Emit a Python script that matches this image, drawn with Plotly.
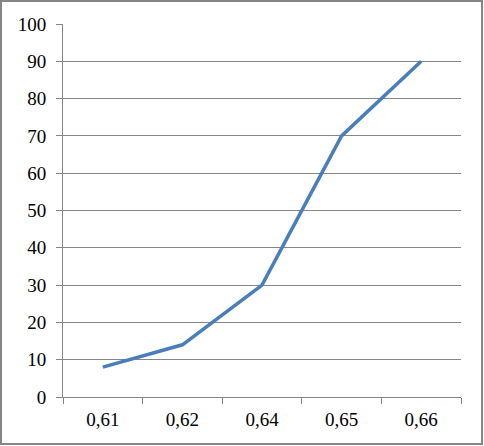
import plotly.graph_objects as go

categories = ["0,61", "0,62", "0,64", "0,65", "0,66"]
values = [8, 14, 30, 70, 90]
y_ticks = list(range(0, 101, 10))

W, H = 484, 446
L, R, T, B = 63, 23, 24, 49
pw, ph = W - L - R, H - T - B

def px_x(x):
    return (x - L) / pw

def px_y(y):
    return (H - B - y) / ph

gray = "#868686"
fig = go.Figure()
fig.add_trace(go.Scatter(
    x=categories, y=values, mode="lines",
    line=dict(color="#4A7EBB", width=3.5),
    showlegend=False, hoverinfo="skip",
))

fig.update_layout(
    width=W, height=H,
    margin=dict(l=L, r=R, t=T, b=B),
    paper_bgcolor="white", plot_bgcolor="white",
    font=dict(family="Liberation Serif", size=19, color="black"),
    xaxis=dict(
        type="category", range=[-0.5, 4.5],
        showgrid=False, showline=True, linecolor=gray, linewidth=1,
        ticks="outside", ticklen=6, tickcolor=gray, tickwidth=1,
        tickson="boundaries", ticklabelstandoff=5,
        zeroline=False,
    ),
    yaxis=dict(
        range=[0, 100], tickvals=y_ticks,
        showgrid=True, gridcolor=gray, gridwidth=1,
        showline=True, linecolor=gray, linewidth=1,
        ticks="outside", ticklen=6, tickcolor=gray, tickwidth=1,
        ticklabelstandoff=6, zeroline=False,
    ),
    shapes=[dict(
        type="rect", xref="paper", yref="paper",
        x0=px_x(1), x1=px_x(482), y0=px_y(444), y1=px_y(1),
        line=dict(color=gray, width=2), fillcolor="rgba(0,0,0,0)", layer="above",
    )],
)

fig.write_html(
    "out.html",
    config={"displayModeBar": False},
    post_script="document.body.style.margin='0';document.body.style.overflow='hidden';",
)
